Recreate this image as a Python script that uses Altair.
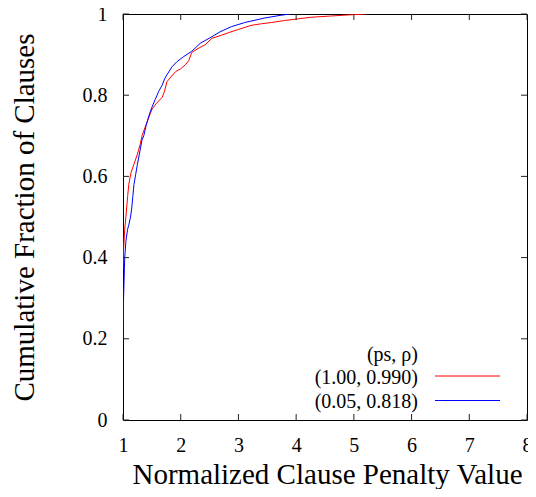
import altair as alt
import pandas as pd

# ---- data ----
red_x = [1.00, 1.01, 1.03, 1.05, 1.08, 1.10, 1.14, 1.19, 1.25, 1.30, 1.33, 1.38, 1.42,
         1.50, 1.58, 1.68, 1.72, 1.76, 1.83, 1.91, 2.00, 2.08, 2.14, 2.19, 2.30, 2.42,
         2.54, 2.71, 2.85, 3.00, 3.22, 3.40, 3.57, 3.80, 4.03, 4.26, 4.60, 4.94, 5.20]
red_y = [0.37, 0.42, 0.47, 0.50, 0.55, 0.58, 0.61, 0.63, 0.655, 0.68, 0.70, 0.72, 0.735,
         0.765, 0.78, 0.795, 0.81, 0.833, 0.845, 0.858, 0.865, 0.875, 0.885, 0.905, 0.915, 0.924,
         0.94, 0.948, 0.955, 0.962, 0.972, 0.976, 0.979, 0.984, 0.988, 0.992, 0.995, 0.998, 1.0]

blue_x = [1.00, 1.01, 1.03, 1.05, 1.08, 1.10, 1.13, 1.15, 1.17, 1.19, 1.22, 1.25, 1.29,
          1.33, 1.36, 1.40, 1.45, 1.50, 1.56, 1.62, 1.68, 1.72, 1.76, 1.85, 1.93, 2.05,
          2.19, 2.34, 2.54, 2.68, 2.88, 3.11, 3.45, 3.74, 3.90]
blue_y = [0.20, 0.30, 0.40, 0.44, 0.47, 0.48, 0.50, 0.52, 0.55, 0.58, 0.605, 0.63, 0.66,
          0.69, 0.70, 0.725, 0.75, 0.77, 0.79, 0.81, 0.825, 0.84, 0.85, 0.87, 0.882, 0.895,
          0.908, 0.928, 0.944, 0.956, 0.969, 0.979, 0.99, 0.997, 1.0]

series_labels = ["(1.00, 0.990)", "(0.05, 0.818)"]
legend_title = "(ps, ρ)"
colors = ["#ff0000", "#0000ff"]
x_ticks = [1, 2, 3, 4, 5, 6, 7, 8]
y_ticks = [0, 0.2, 0.4, 0.6, 0.8, 1]
x_title = "Normalized Clause Penalty Value"
y_title = "Cumulative Fraction of Clauses"

# ---- layout / style ----
W, H = 404, 406
PAD_L, PAD_T = 115, 6
FONT = "Liberation Serif"
TICK = 6

df = pd.concat([
    pd.DataFrame({"x": red_x, "y": red_y, "series": series_labels[0], "order": range(len(red_x))}),
    pd.DataFrame({"x": blue_x, "y": blue_y, "series": series_labels[1], "order": range(len(blue_x))}),
])

xscale = alt.Scale(domain=[1, 8], nice=False, zero=False)
yscale = alt.Scale(domain=[0, 1], nice=False, zero=False)

x_axis = alt.Axis(
    values=x_ticks, title=x_title, ticks=False, domain=False, grid=False,
    labelFont=FONT, labelFontSize=20, labelPadding=15, labelColor="black",
    labelFlush=False, labelOverlap=False, format="d",
    titleFont=FONT, titleFontSize=29, titleFontWeight="normal", titleColor="black",
    titleX=W / 2 + 2, titleY=63, titleBaseline="alphabetic")
y_axis = alt.Axis(
    values=y_ticks, title=y_title, ticks=False, domain=False, grid=False,
    labelFont=FONT, labelFontSize=20, labelPadding=16, labelColor="black",
    labelOverlap=False, format="~g",
    titleFont=FONT, titleFontSize=29, titleFontWeight="normal", titleColor="black",
    titleAngle=270, titleX=-90, titleY=H / 2, titleBaseline="alphabetic", titleAlign="center")

lines = alt.Chart(df).mark_line(strokeWidth=1, clip=True).encode(
    x=alt.X("x:Q", scale=xscale, axis=x_axis, title=x_title),
    y=alt.Y("y:Q", scale=yscale, axis=y_axis, title=y_title),
    color=alt.Color("series:N", scale=alt.Scale(domain=series_labels, range=colors), legend=None),
    order="order:Q",
)

xt = pd.DataFrame({"x": x_ticks})
yt = pd.DataFrame({"y": y_ticks})
tick_style = dict(color="#222222", strokeWidth=1)
ticks_bottom = alt.Chart(xt).mark_rule(**tick_style).encode(
    x=alt.X("x:Q", scale=xscale, title=x_title), y=alt.value(H), y2=alt.value(H - TICK))
ticks_top = alt.Chart(xt).mark_rule(**tick_style).encode(
    x=alt.X("x:Q", scale=xscale, title=x_title), y=alt.value(0), y2=alt.value(TICK))
ticks_left = alt.Chart(yt).mark_rule(**tick_style).encode(
    y=alt.Y("y:Q", scale=yscale, title=y_title), x=alt.value(0), x2=alt.value(TICK))
ticks_right = alt.Chart(yt).mark_rule(**tick_style).encode(
    y=alt.Y("y:Q", scale=yscale, title=y_title), x=alt.value(W - TICK), x2=alt.value(W))

# ---- key (bottom right, labels left of samples, gnuplot style) ----
key_text_x = 295
key_line_x1, key_line_x2 = 312, 377
key_rows_y = [363.5, 388]
key_line_y = [362, 386.5]
key_title_y = 341

key_layers = [
    alt.Chart(pd.DataFrame({"label": [legend_title]})).mark_text(
        align="right", baseline="middle", font=FONT, fontSize=20, color="black"
    ).encode(text="label:N", x=alt.value(key_text_x), y=alt.value(key_title_y))
]
for lab, col, ty, ly in zip(series_labels, colors, key_rows_y, key_line_y):
    key_layers.append(
        alt.Chart(pd.DataFrame({"label": [lab]})).mark_text(
            align="right", baseline="middle", font=FONT, fontSize=20, color="black"
        ).encode(text="label:N", x=alt.value(key_text_x), y=alt.value(ty))
    )
    key_layers.append(
        alt.Chart(pd.DataFrame({"label": [lab]})).mark_rule(color=col, strokeWidth=1).encode(
            x=alt.value(key_line_x1), x2=alt.value(key_line_x2), y=alt.value(ly))
    )

chart = alt.layer(
    lines, ticks_bottom, ticks_top, ticks_left, ticks_right, *key_layers
).properties(
    width=W, height=H,
    autosize=alt.AutoSizeParams(type="none"),
    padding={"left": PAD_L, "top": PAD_T, "right": 1, "bottom": 69},
    background="white",
).configure_view(stroke="black", strokeWidth=1)

chart.save("out.html", embed_options={"renderer": "svg", "actions": False})
